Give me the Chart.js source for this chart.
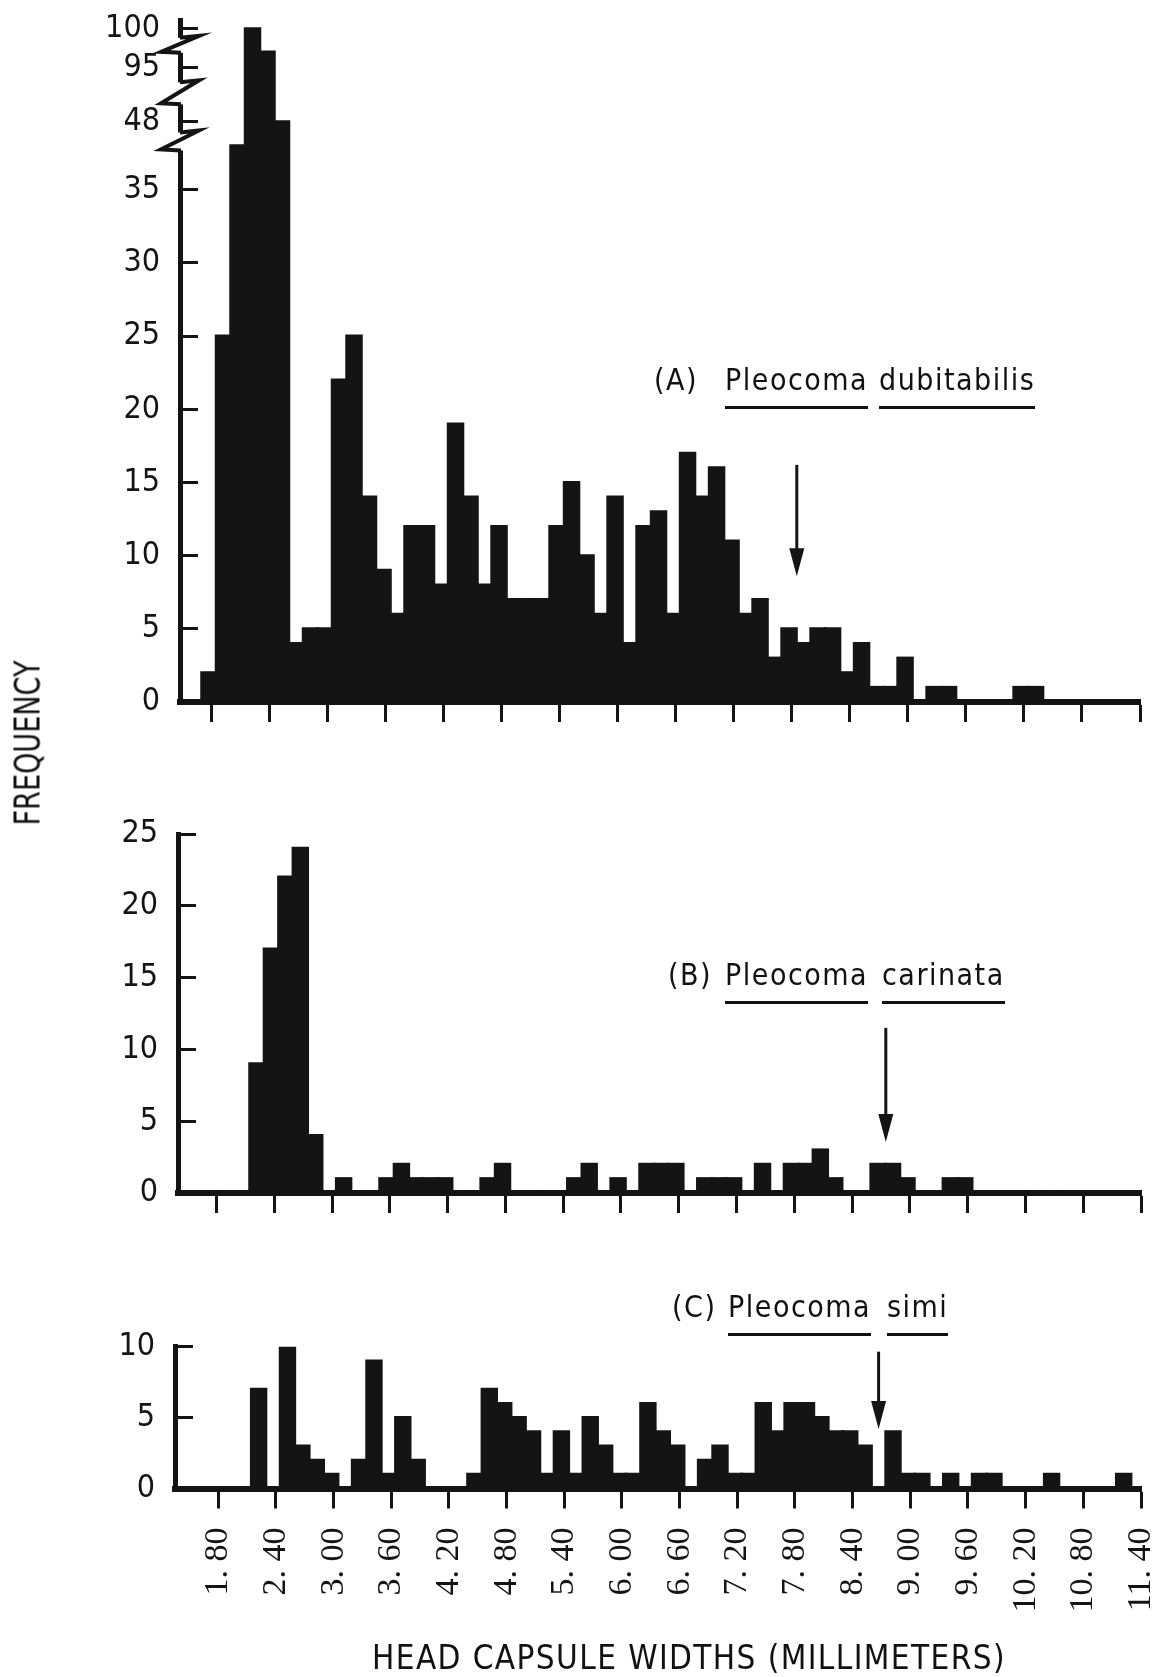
<!DOCTYPE html>
<html><head><meta charset="utf-8">
<script src="https://cdn.jsdelivr.net/npm/chart.js@4.4.1/dist/chart.umd.min.js"></script>
<style>
html,body{margin:0;padding:0;background:#fff;}
#wrap{position:relative;width:1156px;height:1677px;overflow:hidden;background:#fff;}
canvas{position:absolute;left:0;}
.t{position:absolute;color:#111;white-space:nowrap;}
.sp{font-family:'DejaVu Sans Condensed','DejaVu Sans',sans-serif;font-size:30px;line-height:30px;letter-spacing:1.5px;}
.u{display:inline-block;border-bottom:3px solid #111;padding-bottom:11px;}
.nar{font-family:'Liberation Sans Narrow','DejaVu Sans Condensed',sans-serif;}
</style></head>
<body><div id="wrap">
<canvas id="cA" width="1156" height="740" style="top:0px"></canvas>
<canvas id="cB" width="1156" height="420" style="top:800px"></canvas>
<canvas id="cC" width="1156" height="357" style="top:1320px"></canvas>

<div class="t nar" style="left:28px;top:743px;font-size:35px;line-height:35px;transform:translate(-50%,-50%) rotate(-90deg) scaleX(0.86);">FREQUENCY</div>
<div class="t nar" style="left:372px;top:1641px;font-size:33px;line-height:33px;letter-spacing:1.4px;">HEAD CAPSULE WIDTHS (MILLIMETERS)</div>

<div class="t sp" style="left:654px;top:365px;">(A)</div>
<div class="t sp" style="left:725px;top:365px;"><span class="u">Pleocoma</span></div>
<div class="t sp" style="left:879px;top:365px;"><span class="u">dubitabilis</span></div>

<div class="t sp" style="left:668px;top:960px;">(B)</div>
<div class="t sp" style="left:725px;top:960px;"><span class="u">Pleocoma</span></div>
<div class="t sp" style="left:882px;top:960px;"><span class="u">carinata</span></div>

<div class="t sp" style="left:672px;top:1292px;">(C)</div>
<div class="t sp" style="left:728px;top:1292px;"><span class="u">Pleocoma</span></div>
<div class="t sp" style="left:887px;top:1292px;"><span class="u">simi</span></div>
</div>
<script>
// ---- data ----
const binCenters = [1.77,1.92,2.07,2.22,2.37,2.52,2.67,2.82,2.97,3.12,3.27,3.42,3.57,3.72,3.87,4.02,
  4.17,4.32,4.47,4.62,4.77,4.92,5.07,5.22,5.37,5.52,5.67,5.82,5.97,6.12,6.27,6.42,
  6.57,6.72,6.87,7.02,7.17,7.32,7.47,7.62,7.77,7.92,8.07,8.22,8.37,8.52,8.67,8.82,
  8.97,9.12,9.27,9.42,9.57,9.72,9.87,10.02,10.17,10.32,10.47,10.62,10.77,10.92,11.07,11.22];

const countsDubitabilis = [2,25,38,100,97,48,4,5,5,22,25,14,9,6,12,12,
  8,19,14,8,12,7,7,7,12,15,10,6,14,4,12,13,
  6,17,14,16,11,6,7,3,5,4,5,5,2,4,1,1,
  3,0,1,1,0,0,0,0,1,1,0,0,0,0,0,0];

const countsCarinata = [0,0,0,9,17,22,24,4,0,1,0,0,1,2,1,1,
  1,0,0,1,2,0,0,0,0,1,2,0,1,0,2,2,
  2,0,1,1,1,0,2,0,2,2,3,1,0,0,2,2,
  1,0,0,1,1,0,0,0,0,0,0,0,0,0,0,0];

const countsSimi = [0,0,0,7,0,10,3,2,1,0,2,9,1,5,2,0,
  0,0,1,7,6,5,4,1,4,1,5,3,1,1,6,4,
  3,0,2,3,1,1,6,4,6,6,5,4,4,3,0,4,
  1,1,0,1,0,1,1,0,0,0,1,0,0,0,0,1];

const xTickValues = [1.8,2.4,3.0,3.6,4.2,4.8,5.4,6.0,6.6,7.2,7.8,8.4,9.0,9.6,10.2,10.8,11.4];
const xTickLabels = ["1. 80","2. 40","3. 00","3. 60","4. 20","4. 80","5. 40","6. 00","6. 60",
  "7. 20","7. 80","8. 40","9. 00","9. 60","10. 20","10. 80","11. 40"];

const yTicksA = [0,5,10,15,20,25,30,35,48,95,100];
const yTicksB = [0,5,10,15,20,25];
const yTicksC = [0,5,10];

// broken axis of panel A: real value -> plotted position
const breakReal  = [0, 38, 48, 95, 100];
const breakShown = [0, 38, 39.65, 43.35, 46.0];
function shownA(v){
  for (let i = 1; i < breakReal.length; i++) {
    if (v <= breakReal[i]) {
      const t = (v - breakReal[i-1]) / (breakReal[i] - breakReal[i-1]);
      return breakShown[i-1] + t * (breakShown[i] - breakShown[i-1]);
    }
  }
  return breakShown[breakShown.length - 1];
}
const same = v => v;

// ---- drawing ----
const INK = '#141414';
const yFont = {family:"'Liberation Sans Narrow','DejaVu Sans Condensed',sans-serif", size:32};
const xFont = {family:"'Liberation Serif','DejaVu Serif',serif", size:34};

function decoPlugin(p){
  return {
    id:'deco'+p.id,
    afterDraw(chart){
      const ctx = chart.ctx, xs = chart.scales.x, ys = chart.scales.y;
      ctx.save();
      if (p.breaks) {
        const ax = chart.chartArea.left;
        p.breaks.forEach(b => {
          const yc = ys.getPixelForValue(b.at);
          ctx.fillStyle = '#fff';
          ctx.fillRect(ax - 4, yc - b.half, 8, 2 * b.half);
          ctx.strokeStyle = INK; ctx.lineWidth = 4; ctx.lineJoin = 'miter';
          ctx.beginPath();
          ctx.moveTo(ax, yc - b.half);
          ctx.lineTo(ax + 19, yc - b.half - 2);
          ctx.lineTo(ax - 19, yc + b.half - 1);
          ctx.lineTo(ax + 1, yc + b.half);
          ctx.stroke();
        });
      }
      if (p.arrow) {
        const x = xs.getPixelForValue(p.arrow.x);
        const y1 = ys.getPixelForValue(p.arrow.from);
        const y2 = ys.getPixelForValue(p.arrow.to);
        ctx.strokeStyle = INK; ctx.lineWidth = 3;
        ctx.beginPath(); ctx.moveTo(x, y1); ctx.lineTo(x, y2 - 20); ctx.stroke();
        ctx.fillStyle = INK;
        ctx.beginPath();
        ctx.moveTo(x - 7.5, y2 - 28); ctx.lineTo(x + 7.5, y2 - 28); ctx.lineTo(x, y2);
        ctx.closePath(); ctx.fill();
      }
      ctx.restore();
    }
  };
}

function makeChart(p){
  const data = binCenters.map((x, i) => ({x: x, y: p.tf(p.counts[i])}));
  return new Chart(document.getElementById(p.id), {
    type:'bar',
    data:{datasets:[{data:data, backgroundColor:INK, borderWidth:0,
      barPercentage:1, categoryPercentage:1, inflateAmount:1.5}]},
    options:{
      responsive:false, animation:false, devicePixelRatio:1,
      layout:{padding:{top:p.top, left:0, right:1156 - p.right, bottom:0}},
      plugins:{legend:{display:false}, tooltip:{enabled:false}},
      scales:{
        x:{type:'linear', min:p.xMin, max:11.4, offset:false,
          afterBuildTicks: s => { s.ticks = xTickValues.map(v => ({value:v})); },
          afterFit: s => { s.height = p.H - p.bottom; s.paddingLeft = 0; s.paddingRight = 0; s.paddingTop = 0; s.paddingBottom = 0; },
          border:{display:true, color:INK, width:6},
          grid:{display:true, offset:false, drawOnChartArea:false, drawTicks:true, tickLength:20,
            tickWidth:3, tickColor:INK, color:INK},
          ticks:{display:p.showX, autoSkip:false, minRotation:90, maxRotation:90, padding:19,
            color:INK, font:xFont, callback:(v, i) => xTickLabels[i]}
        },
        y:{type:'linear', min:0, max:p.yMax,
          afterBuildTicks: s => { s.ticks = p.yTicks.map(v => ({value:p.tf(v)})); },
          afterFit: s => { s.width = p.left; s.paddingTop = 0; s.paddingBottom = 0; s.paddingLeft = 0; s.paddingRight = 0; },
          border:{display:true, color:INK, width:5},
          grid:{display:true, drawOnChartArea:false, drawTicks:true, tickLength:-18,
            tickWidth:3, tickColor:INK, color:INK},
          ticks:{padding:38, color:INK, font:yFont, callback:(v, i) => String(p.yTicks[i])}
        }
      }
    },
    plugins:[decoPlugin(p)]
  });
}

makeChart({id:'cA', counts:countsDubitabilis, tf:shownA, yTicks:yTicksA, yMax:46.6,
  xMin:1.47, left:180, right:1140, top:20, bottom:702, H:740, showX:false,
  arrow:{x:7.85, from:16.2, to:8.6},
  breaks:[{at:44.87, half:7.5},{at:41.59, half:11},{at:38.3, half:9}]});

makeChart({id:'cB', counts:countsCarinata, tf:same, yTicks:yTicksB, yMax:25,
  xMin:1.40, left:178, right:1141, top:34, bottom:393, H:420, showX:false,
  arrow:{x:8.75, from:11.5, to:3.55}});

makeChart({id:'cC', counts:countsSimi, tf:same, yTicks:yTicksC, yMax:10,
  xMin:1.35, left:175, right:1141, top:26.7, bottom:168.5, H:357, showX:true,
  arrow:{x:8.67, from:9.65, to:4.2}});
</script>
</body></html>
